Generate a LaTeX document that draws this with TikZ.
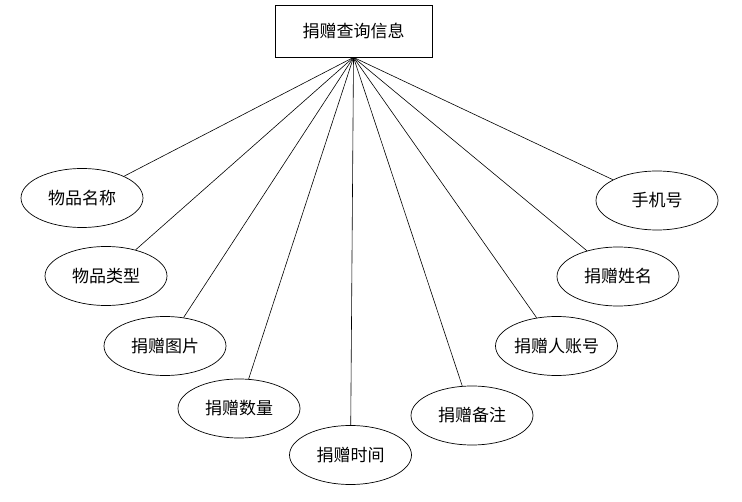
\documentclass[tikz,border=0pt]{standalone}
\usepackage{fontspec}
\setmainfont{Noto Sans CJK SC}
\usetikzlibrary{shapes.geometric}
\tikzset{
  attr/.style={draw, ellipse, line width=0.7pt, minimum width=122pt, minimum height=59pt, inner sep=0pt, font=\fontsize{17}{19}\selectfont},
  ent/.style={draw, rectangle, line width=0.8pt, minimum width=157pt, minimum height=52pt, inner sep=0pt, font=\fontsize{17}{19}\selectfont},
  link/.style={line width=0.6pt}
}
\begin{document}
\begin{tikzpicture}[x=1pt,y=-1pt]
\useasboundingbox[fill=white] (0,0) rectangle (742,502);
\node[ent] (top) at (353.5,31) {捐赠查询信息};
\node[attr] (a1) at (82,198) {物品名称};
\node[attr] (a2) at (106,276) {物品类型};
\node[attr] (a3) at (165,346) {捐赠图片};
\node[attr] (a4) at (239,408.5) {捐赠数量};
\node[attr] (a5) at (350.5,455) {捐赠时间};
\node[attr] (a6) at (472,415.5) {捐赠备注};
\node[attr] (a7) at (556.5,346) {捐赠人账号};
\node[attr] (a8) at (618,276.5) {捐赠姓名};
\node[attr] (a9) at (657,200.5) {手机号};
\foreach \n in {a1,a2,a3,a4,a5,a6,a7,a8,a9}
  \draw[link] (top.south) -- (\n);
\end{tikzpicture}
\end{document}
